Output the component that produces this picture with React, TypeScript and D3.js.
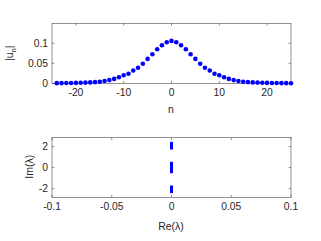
import { scaleLinear } from "d3";
import type { ReactElement } from "react";

// top panel: |u_n| at lattice sites n = -24..25
const sites: number[] = [
  -24, -23, -22, -21, -20, -19, -18, -17, -16, -15, -14, -13, -12, -11, -10, -9, -8, -7, -6, -5, -4, -3, -2, -1,
  0, 1, 2, 3, 4, 5, 6, 7, 8, 9, 10, 11, 12, 13, 14, 15, 16, 17, 18, 19, 20, 21, 22, 23, 24, 25,
];
const amplitude: number[] = [
  0.0004, 0.0005, 0.0006, 0.0008, 0.001, 0.0013, 0.0017, 0.0022, 0.003, 0.004, 0.0058, 0.008, 0.011, 0.015,
  0.02, 0.024, 0.032, 0.039, 0.049, 0.061, 0.0725, 0.085, 0.095, 0.1025,
  0.106, 0.1025, 0.095, 0.085, 0.0725, 0.061, 0.049, 0.039, 0.032, 0.024, 0.02, 0.015, 0.011, 0.008, 0.0058, 0.004,
  0.003, 0.0022, 0.0017, 0.0013, 0.001, 0.0008, 0.0006, 0.0005, 0.0004, 0.0003,
];

// bottom panel: spectrum, all on the imaginary axis
const imEigs: number[] = [
  2.32, 2.28, 2.24, 2.2, 2.16, 2.12, 2.08, 2.04, 2.0, 1.96, 1.92, 1.88, 1.84,
  0.42, 0.36, 0.3, 0.24, 0.18, 0.12, 0.06, 0, -0.06, -0.12, -0.18, -0.24, -0.3, -0.36, -0.42,
  -1.84, -1.88, -1.92, -1.96, -2.0, -2.04, -2.08, -2.12, -2.16, -2.2, -2.24, -2.28, -2.32,
];
const reEigs: number[] = imEigs.map(() => 0);

const topXTicks = [-20, -10, 0, 10, 20];
const topYTicks = [0, 0.05, 0.1];
const botXTicks = [-0.1, -0.05, 0, 0.05, 0.1];
const botYTicks = [-2, 0, 2];

const W = 321;
const H = 241;
const ink = "#262626";
const blue = "#0000ff";
const font = "'Liberation Sans', Arial, Helvetica, sans-serif";
const left = 52;
const right = 291;
const tickLen = 2.4;

type Frame = { top: number; bottom: number };

const AxesBox = (props: {
  f: Frame;
  x: (v: number) => number;
  y: (v: number) => number;
  xTicks: number[];
  yTicks: number[];
  fmt: (v: number) => string;
}): ReactElement => {
  const { f, x, y, xTicks, yTicks, fmt } = props;
  return (
    <g>
      {xTicks.map((t) => (
        <g key={`x${t}`}>
          <line x1={x(t)} x2={x(t)} y1={f.bottom} y2={f.bottom - tickLen} stroke={ink} strokeWidth={0.5} />
          <line x1={x(t)} x2={x(t)} y1={f.top} y2={f.top + tickLen} stroke={ink} strokeWidth={0.5} />
          <text x={x(t)} y={f.bottom + 13} textAnchor="middle" fontSize={10.3} fill={ink}>
            {fmt(t)}
          </text>
        </g>
      ))}
      {yTicks.map((t) => (
        <g key={`y${t}`}>
          <line x1={left} x2={left + tickLen} y1={y(t)} y2={y(t)} stroke={ink} strokeWidth={0.5} />
          <line x1={right} x2={right - tickLen} y1={y(t)} y2={y(t)} stroke={ink} strokeWidth={0.5} />
          <text x={left - 4} y={y(t)} dy="0.35em" textAnchor="end" fontSize={10.3} fill={ink}>
            {fmt(t)}
          </text>
        </g>
      ))}
      <rect x={left} y={f.top} width={right - left} height={f.bottom - f.top} fill="none" stroke={ink} strokeWidth={0.5} />
    </g>
  );
};

export default function App(): ReactElement {
  const topF: Frame = { top: 23.3, bottom: 83.3 };
  const botF: Frame = { top: 137.7, bottom: 197.3 };

  const x1 = scaleLinear().domain([-25, 25]).range([left, right]);
  const y1 = scaleLinear().domain([0, 0.15]).range([topF.bottom, topF.top]);
  const x2 = scaleLinear().domain([-0.1, 0.1]).range([left, right]);
  const y2 = scaleLinear().domain([-2.84, 2.84]).range([botF.bottom, botF.top]);

  const num = (v: number): string => (v < 0 ? `-${Math.abs(v)}` : `${v}`);

  return (
    <svg
      width={W}
      height={H}
      viewBox={`0 0 ${W} ${H}`}
      style={{ position: "absolute", left: 0, top: 0, background: "#fff" }}
      fontFamily={font}
    >
      <rect x={0} y={0} width={W} height={H} fill="#fff" />

      <AxesBox f={topF} x={x1} y={y1} xTicks={topXTicks} yTicks={topYTicks} fmt={num} />
      {sites.map((n, i) => (
        <circle key={n} cx={x1(n)} cy={y1(amplitude[i])} r={2.3} fill={blue} />
      ))}
      <text x={171} y={113} textAnchor="middle" fontSize={10.5} fill={ink}>
        n
      </text>
      <text transform={`translate(12.5,53.3) rotate(-90)`} textAnchor="middle" fontSize={10.5} fill={ink}>
        |u<tspan fontSize={7.5} dy={3}>n</tspan>
        <tspan dy={-3}>|</tspan>
      </text>

      <AxesBox f={botF} x={x2} y={y2} xTicks={botXTicks} yTicks={botYTicks} fmt={num} />
      {imEigs.map((v, i) => (
        <rect key={i} x={x2(reEigs[i]) - 1.4} y={y2(v) - 1.3} width={2.8} height={2.6} fill={blue} />
      ))}
      <text x={171} y={230} textAnchor="middle" fontSize={10.5} fill={ink}>
        Re(λ)
      </text>
      <text transform={`translate(33,166.7) rotate(-90)`} textAnchor="middle" fontSize={10.5} fill={ink}>
        Im(λ)
      </text>
    </svg>
  );
}
